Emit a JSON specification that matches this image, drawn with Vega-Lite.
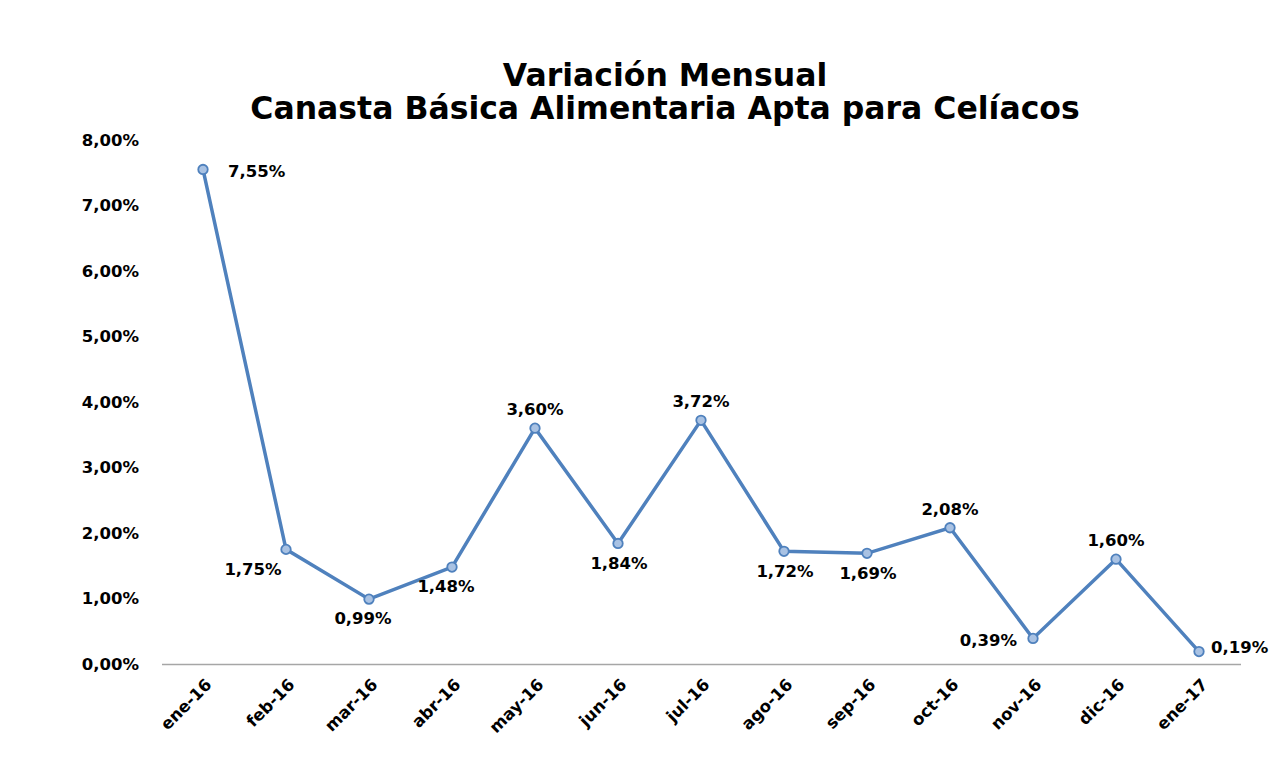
{
  "$schema": "https://vega.github.io/schema/vega-lite/v6.json",
  "autosize": {"type": "none"},
  "width": 1079,
  "height": 524,
  "padding": {"left": 161.5, "top": 140, "right": 35.5, "bottom": 110},
  "background": "white",
  "config": {
    "view": {"stroke": null},
    "font": "DejaVu Sans",
    "locale": {"number": {"decimal": ",", "thousands": ".", "grouping": [3], "currency": ["", " €"]}}
  },
  "title": {
    "text": ["Variación Mensual", "Canasta Básica Alimentaria Apta para Celíacos"],
    "font": "DejaVu Sans",
    "fontSize": 31.5,
    "fontWeight": "bold",
    "color": "#000000",
    "lineHeight": 33,
    "anchor": "middle",
    "frame": "group",
    "dx": -36,
    "offset": 7
  },
  "data": {
    "values": [
      {"mes": "ene-16", "variacion": 0.0755},
      {"mes": "feb-16", "variacion": 0.0175},
      {"mes": "mar-16", "variacion": 0.0099},
      {"mes": "abr-16", "variacion": 0.0148},
      {"mes": "may-16", "variacion": 0.0360},
      {"mes": "jun-16", "variacion": 0.0184},
      {"mes": "jul-16", "variacion": 0.0372},
      {"mes": "ago-16", "variacion": 0.0172},
      {"mes": "sep-16", "variacion": 0.0169},
      {"mes": "oct-16", "variacion": 0.0208},
      {"mes": "nov-16", "variacion": 0.0039},
      {"mes": "dic-16", "variacion": 0.0160},
      {"mes": "ene-17", "variacion": 0.0019}
    ]
  },
  "encoding": {
    "x": {
      "field": "mes", "type": "ordinal", "sort": null,
      "scale": {"type": "point", "padding": 0.5},
      "axis": {
        "title": null, "labelAngle": -45, "labelFont": "DejaVu Sans", "labelFontSize": 16.5,
        "labelFontWeight": "bold", "labelColor": "#000000", "labelPadding": 12,
        "ticks": false, "domainColor": "#A6A6A6", "domainWidth": 1.5, "grid": false
      }
    },
    "y": {
      "field": "variacion", "type": "quantitative",
      "scale": {"domain": [0, 0.08], "nice": false},
      "axis": {
        "title": null, "format": ".2%", "values": [0, 0.01, 0.02, 0.03, 0.04, 0.05, 0.06, 0.07, 0.08],
        "labelFont": "DejaVu Sans", "labelFontSize": 16.5, "labelFontWeight": "bold", "labelColor": "#000000",
        "labelPadding": 23, "ticks": false, "domain": false, "grid": false
      }
    }
  },
  "layer": [
    {"mark": {"type": "line", "color": "#4F81BD", "strokeWidth": 3.5}},
    {"mark": {"type": "point", "shape": "circle", "filled": true, "fill": "#A9C2E3", "stroke": "#4F81BD", "strokeWidth": 1.8, "size": 90, "opacity": 1}},
    {
      "transform": [{"filter": {"field": "mes", "oneOf": ["ene-16"]}}],
      "mark": {"type": "text", "align": "left", "baseline": "middle", "dx": 25, "dy": 3, "fontSize": 16.5, "fontWeight": "bold", "color": "#000000"},
      "encoding": {"text": {"field": "variacion", "type": "quantitative", "format": ".2%"}}
    },
    {
      "transform": [{"filter": {"field": "mes", "oneOf": ["ene-17"]}}],
      "mark": {"type": "text", "align": "left", "baseline": "middle", "dx": 12, "dy": -4, "fontSize": 16.5, "fontWeight": "bold", "color": "#000000"},
      "encoding": {"text": {"field": "variacion", "type": "quantitative", "format": ".2%"}}
    },
    {
      "transform": [{"filter": {"field": "mes", "oneOf": ["mar-16", "abr-16"]}}],
      "mark": {"type": "text", "align": "center", "baseline": "middle", "dx": -6, "dy": 20, "fontSize": 16.5, "fontWeight": "bold", "color": "#000000"},
      "encoding": {"text": {"field": "variacion", "type": "quantitative", "format": ".2%"}}
    },
    {
      "transform": [{"filter": {"field": "mes", "oneOf": ["jun-16", "ago-16", "sep-16"]}}],
      "mark": {"type": "text", "align": "center", "baseline": "middle", "dx": 1, "dy": 21, "fontSize": 16.5, "fontWeight": "bold", "color": "#000000"},
      "encoding": {"text": {"field": "variacion", "type": "quantitative", "format": ".2%"}}
    },
    {
      "transform": [{"filter": {"field": "mes", "oneOf": ["feb-16"]}}],
      "mark": {"type": "text", "align": "center", "baseline": "middle", "dx": -33, "dy": 21, "fontSize": 16.5, "fontWeight": "bold", "color": "#000000"},
      "encoding": {"text": {"field": "variacion", "type": "quantitative", "format": ".2%"}}
    },
    {
      "transform": [{"filter": {"field": "mes", "oneOf": ["may-16", "jul-16", "oct-16", "dic-16"]}}],
      "mark": {"type": "text", "align": "center", "baseline": "middle", "dx": 0, "dy": -18, "fontSize": 16.5, "fontWeight": "bold", "color": "#000000"},
      "encoding": {"text": {"field": "variacion", "type": "quantitative", "format": ".2%"}}
    },
    {
      "transform": [{"filter": {"field": "mes", "oneOf": ["nov-16"]}}],
      "mark": {"type": "text", "align": "right", "baseline": "middle", "dx": -16, "dy": 3, "fontSize": 16.5, "fontWeight": "bold", "color": "#000000"},
      "encoding": {"text": {"field": "variacion", "type": "quantitative", "format": ".2%"}}
    }
  ]
}
